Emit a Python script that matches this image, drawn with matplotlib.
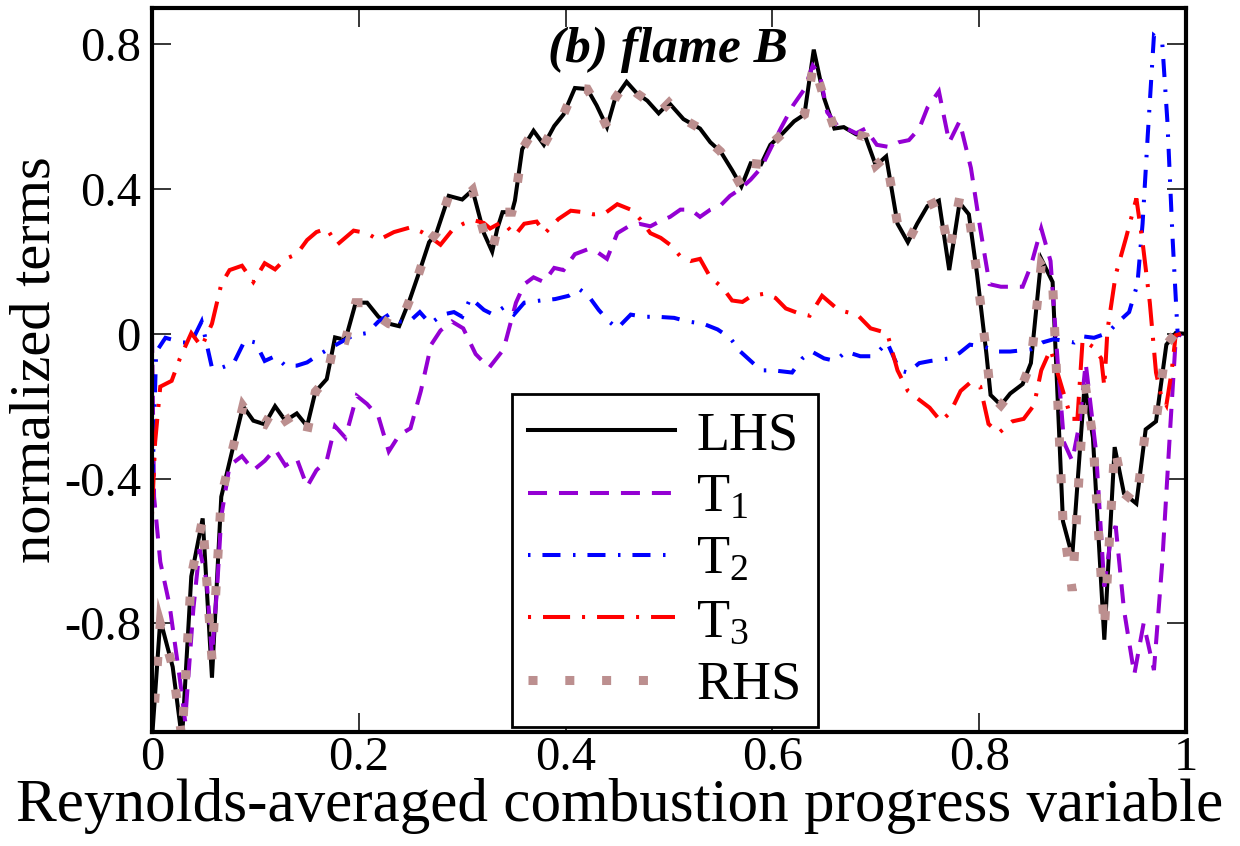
import matplotlib
matplotlib.use("Agg")
from matplotlib import pyplot as plt

lhs_x = [0.000, 0.008, 0.020, 0.029, 0.038, 0.049, 0.058, 0.067, 0.077, 0.088,
         0.098, 0.109, 0.119, 0.129, 0.140, 0.150, 0.158, 0.169, 0.177, 0.187,
         0.197, 0.208, 0.219, 0.229, 0.239, 0.249, 0.259, 0.268, 0.275, 0.287,
         0.300, 0.310, 0.321, 0.329, 0.334, 0.339, 0.348, 0.351, 0.358, 0.369,
         0.379, 0.389, 0.398, 0.409, 0.421, 0.430, 0.440, 0.448, 0.459, 0.469,
         0.479, 0.490, 0.500, 0.514, 0.530, 0.540, 0.550, 0.561, 0.570, 0.579,
         0.589, 0.598, 0.610, 0.621, 0.631, 0.640, 0.650, 0.660, 0.669, 0.681,
         0.690, 0.700, 0.710, 0.721, 0.731, 0.740, 0.750, 0.761, 0.771, 0.781,
         0.790, 0.798, 0.807, 0.811, 0.821, 0.830, 0.842, 0.850, 0.860, 0.871,
         0.881, 0.890, 0.902, 0.910, 0.921, 0.931, 0.940, 0.952, 0.961, 0.971,
         0.981, 0.990, 1.000]
lhs_y = [-1.12, -0.79, -0.92, -1.12, -0.67, -0.51, -0.95, -0.45, -0.33, -0.20,
         -0.24, -0.25, -0.20, -0.24, -0.22, -0.255, -0.16, -0.125, -0.01, -0.017,
         0.086, 0.086, 0.047, 0.028, 0.021, 0.092, 0.175, 0.253, 0.278, 0.381,
         0.371, 0.397, 0.278, 0.227, 0.291, 0.336, 0.336, 0.368, 0.510, 0.561,
         0.522, 0.574, 0.606, 0.679, 0.676, 0.631, 0.571, 0.651, 0.696, 0.664,
         0.644, 0.609, 0.638, 0.593, 0.567, 0.529, 0.503, 0.452, 0.407, 0.471,
         0.468, 0.522, 0.554, 0.587, 0.606, 0.785, 0.651, 0.567, 0.571, 0.551,
         0.544, 0.465, 0.490, 0.304, 0.253, 0.304, 0.353, 0.368, 0.176, 0.362,
         0.330, 0.163, -0.056, -0.169, -0.197, -0.165, -0.139, -0.081, 0.207, 0.143,
         -0.518, -0.614, -0.139, -0.287, -0.845, -0.313, -0.441, -0.469, -0.264, -0.242,
         -0.030, 0.002, 0.000]
rhs_y = [-1.12, -0.80, -0.92, -1.12, -0.67, -0.51, -0.90, -0.45, -0.33, -0.20,
         -0.24, -0.25, -0.20, -0.24, -0.22, -0.27, -0.16, -0.125, -0.01, -0.017,
         0.086, 0.086, 0.047, 0.028, 0.021, 0.092, 0.175, 0.253, 0.278, 0.381,
         0.371, 0.397, 0.278, 0.227, 0.291, 0.336, 0.336, 0.368, 0.510, 0.561,
         0.522, 0.574, 0.606, 0.679, 0.676, 0.631, 0.571, 0.651, 0.696, 0.664,
         0.644, 0.609, 0.638, 0.593, 0.567, 0.529, 0.503, 0.452, 0.407, 0.471,
         0.468, 0.522, 0.554, 0.587, 0.606, 0.745, 0.651, 0.567, 0.571, 0.551,
         0.544, 0.465, 0.490, 0.304, 0.253, 0.304, 0.353, 0.368, 0.225, 0.375,
         0.330, 0.163, -0.056, -0.169, -0.197, -0.165, -0.139, -0.081, 0.190, 0.143,
         -0.518, -0.710, -0.130, -0.287, -0.820, -0.313, -0.441, -0.469, -0.264, -0.242,
         -0.030, 0.002, 0.000]

t1_x = [0.000, 0.002, 0.008, 0.017, 0.027, 0.032, 0.040, 0.046, 0.053, 0.058,
        0.063, 0.067, 0.075, 0.087, 0.098, 0.109, 0.119, 0.129, 0.140, 0.150,
        0.159, 0.169, 0.177, 0.187, 0.198, 0.208, 0.219, 0.229, 0.239, 0.250,
        0.260, 0.270, 0.279, 0.290, 0.301, 0.313, 0.326, 0.340, 0.352, 0.360,
        0.369, 0.379, 0.389, 0.398, 0.409, 0.421, 0.430, 0.440, 0.450, 0.461,
        0.471, 0.482, 0.492, 0.501, 0.511, 0.521, 0.530, 0.540, 0.550, 0.559,
        0.569, 0.579, 0.589, 0.598, 0.608, 0.620, 0.631, 0.639, 0.646, 0.653,
        0.663, 0.669, 0.681, 0.690, 0.701, 0.713, 0.722, 0.732, 0.742, 0.750,
        0.761, 0.771, 0.781, 0.792, 0.801, 0.810, 0.821, 0.830, 0.842, 0.850,
        0.860, 0.869, 0.876, 0.882, 0.890, 0.897, 0.903, 0.913, 0.921, 0.927,
        0.932, 0.940, 0.950, 0.959, 0.969, 0.977, 0.985, 0.990, 0.995]
t1_y = [0.000, -0.450, -0.630, -0.750, -0.955, -1.070, -0.760, -0.595, -0.685, -0.890,
        -0.700, -0.505, -0.364, -0.338, -0.377, -0.351, -0.319, -0.364, -0.345, -0.422,
        -0.377, -0.350, -0.255, -0.287, -0.171, -0.194, -0.229, -0.325, -0.280, -0.261,
        -0.158, -0.030, 0.009, 0.034, 0.015, -0.056, -0.094, -0.043, 0.086, 0.137,
        0.156, 0.143, 0.182, 0.176, 0.220, 0.233, 0.227, 0.207, 0.278, 0.297,
        0.304, 0.297, 0.312, 0.323, 0.343, 0.343, 0.323, 0.343, 0.355, 0.381,
        0.400, 0.426, 0.458, 0.510, 0.567, 0.631, 0.676, 0.741, 0.715, 0.612,
        0.574, 0.571, 0.554, 0.567, 0.522, 0.516, 0.529, 0.535, 0.567, 0.625,
        0.670, 0.529, 0.587, 0.458, 0.291, 0.137, 0.130, 0.130, 0.130, 0.188,
        0.291, 0.201, -0.081, -0.300, -0.351, -0.248, -0.081, -0.325, -0.698, -0.569,
        -0.531, -0.762, -0.941, -0.800, -0.929, -0.633, -0.248, -0.017, 0.000]

t2_x = [0.000, 0.004, 0.013, 0.029, 0.038, 0.048, 0.058, 0.067, 0.079, 0.090,
        0.100, 0.109, 0.119, 0.129, 0.140, 0.150, 0.159, 0.169, 0.182, 0.195,
        0.208, 0.219, 0.229, 0.240, 0.249, 0.259, 0.269, 0.281, 0.292, 0.300,
        0.308, 0.321, 0.330, 0.340, 0.350, 0.360, 0.376, 0.390, 0.403, 0.413,
        0.422, 0.432, 0.442, 0.450, 0.463, 0.476, 0.489, 0.505, 0.518, 0.533,
        0.547, 0.559, 0.569, 0.579, 0.589, 0.601, 0.619, 0.629, 0.638, 0.650,
        0.661, 0.671, 0.685, 0.698, 0.711, 0.723, 0.731, 0.742, 0.753, 0.771,
        0.781, 0.791, 0.805, 0.818, 0.830, 0.850, 0.861, 0.872, 0.884, 0.892,
        0.900, 0.911, 0.924, 0.935, 0.945, 0.953, 0.958, 0.963, 0.969, 0.977,
        0.982, 0.987, 0.992, 0.995]
t2_y = [-0.450, -0.050, -0.011, -0.024, -0.024, 0.034, -0.094, -0.094, -0.081, -0.017,
        -0.024, -0.075, -0.062, -0.088, -0.088, -0.079, -0.062, -0.045, -0.024, -0.004,
        0.002, 0.034, 0.053, 0.034, 0.034, 0.060, 0.028, 0.053, 0.060, 0.047,
        0.099, 0.066, 0.053, 0.073, 0.053, 0.086, 0.092, 0.096, 0.105, 0.124,
        0.105, 0.066, 0.034, 0.015, 0.053, 0.047, 0.047, 0.044, 0.034, 0.028,
        0.012, -0.011, -0.049, -0.075, -0.101, -0.101, -0.107, -0.068, -0.049, -0.068,
        -0.075, -0.049, -0.062, -0.062, -0.024, -0.101, -0.107, -0.081, -0.075, -0.068,
        -0.053, -0.030, -0.036, -0.049, -0.049, -0.043, -0.024, -0.015, -0.020, -0.024,
        -0.007, -0.011, 0.002, 0.034, 0.060, 0.137, 0.304, 0.548, 0.824, 0.805,
        0.587, 0.265, -0.004, 0.000]

t3_x = [0.000, 0.003, 0.008, 0.019, 0.027, 0.038, 0.048, 0.058, 0.067, 0.075,
        0.087, 0.098, 0.109, 0.119, 0.129, 0.140, 0.150, 0.159, 0.169, 0.179,
        0.195, 0.208, 0.219, 0.234, 0.250, 0.261, 0.270, 0.279, 0.290, 0.301,
        0.311, 0.321, 0.327, 0.339, 0.351, 0.360, 0.372, 0.380, 0.393, 0.405,
        0.417, 0.427, 0.438, 0.450, 0.463, 0.472, 0.482, 0.492, 0.501, 0.511,
        0.521, 0.530, 0.540, 0.552, 0.561, 0.571, 0.580, 0.593, 0.603, 0.613,
        0.625, 0.636, 0.648, 0.661, 0.669, 0.682, 0.695, 0.711, 0.721, 0.731,
        0.740, 0.752, 0.763, 0.772, 0.782, 0.792, 0.801, 0.809, 0.819, 0.832,
        0.843, 0.853, 0.860, 0.869, 0.881, 0.889, 0.895, 0.900, 0.910, 0.918,
        0.921, 0.924, 0.932, 0.942, 0.952, 0.958, 0.965, 0.971, 0.976, 0.981,
        0.986, 0.990, 0.995]
t3_y = [-0.500, -0.300, -0.146, -0.130, -0.068, 0.002, -0.036, 0.028, 0.137, 0.176,
        0.188, 0.143, 0.195, 0.178, 0.207, 0.220, 0.259, 0.281, 0.291, 0.246,
        0.285, 0.278, 0.259, 0.281, 0.294, 0.281, 0.265, 0.246, 0.285, 0.304,
        0.314, 0.306, 0.291, 0.310, 0.272, 0.304, 0.310, 0.278, 0.317, 0.340,
        0.336, 0.330, 0.333, 0.358, 0.343, 0.317, 0.278, 0.265, 0.246, 0.214,
        0.201, 0.207, 0.156, 0.127, 0.092, 0.088, 0.105, 0.111, 0.099, 0.070,
        0.057, 0.050, 0.105, 0.073, 0.062, 0.053, 0.015, 0.002, -0.101, -0.158,
        -0.178, -0.204, -0.242, -0.217, -0.158, -0.133, -0.146, -0.249, -0.274, -0.242,
        -0.235, -0.197, -0.101, -0.043, -0.158, -0.235, -0.235, -0.017, -0.036, -0.068,
        -0.146, 0.009, 0.163, 0.265, 0.374, 0.253, 0.086, -0.107, -0.171, -0.197,
        -0.107, -0.004, 0.000]

xticks = [0, 0.2, 0.4, 0.6, 0.8, 1.0]
xtick_labels = ['0', '0.2', '0.4', '0.6', '0.8', '1']
yticks = [-0.8, -0.4, 0, 0.4, 0.8]
ytick_labels = ['-0.8', '-0.4', '0', '0.4', '0.8']

plt.rcParams['font.family'] = ['Liberation Serif', 'DejaVu Serif']
plt.rcParams['mathtext.fontset'] = 'custom'
plt.rcParams['mathtext.rm'] = 'Liberation Serif'
plt.rcParams['mathtext.it'] = 'Liberation Serif:italic'
plt.rcParams['lines.scale_dashes'] = False

fig = plt.figure(figsize=(12.4, 8.46), dpi=100)
ax = fig.add_axes([152 / 1240, 1 - 732 / 846, 1034 / 1240, 724 / 846])

ax.plot(lhs_x, lhs_y, c='black', lw=2.9, solid_joinstyle='miter', label='LHS')
ax.plot(t1_x, t1_y, c='#9400d3', lw=2.9, dashes=(13.7, 8.6),
        dash_joinstyle='miter', label='T$_1$')
ax.plot(t2_x, t2_y, c='#0000ff', lw=2.9, dashes=(1.8, 8.6, 13, 9),
        dash_joinstyle='miter', label='T$_2$')
ax.plot(t3_x, t3_y, c='#ff0000', lw=2.9, dashes=(2.2, 8.6, 19.5, 8.6),
        dash_joinstyle='miter', label='T$_3$')
ax.plot(lhs_x, rhs_y, c='#bc8f8f', lw=6.5, dashes=(6.5, 20),
        dash_joinstyle='miter', label='RHS')

ax.set_xlim(0, 1)
ax.set_ylim(-1.1, 0.9)
ax.set_xticks(xticks, xtick_labels)
ax.set_yticks(yticks, ytick_labels)
ax.tick_params(axis='both', which='major', direction='in', length=13.5, width=1.1,
               top=True, right=True, labelsize=35)
ax.tick_params(axis='x', pad=3)
ax.tick_params(axis='y', pad=8)
for sp in ax.spines.values():
    sp.set_linewidth(3)

ax.set_xlabel('Reynolds-averaged combustion progress variable', fontsize=44)
ax.xaxis.set_label_coords(0.4526, -0.063)
ax.set_ylabel('normalized terms', fontsize=42)
ax.yaxis.set_label_coords(-0.088, 0.514)

ax.text(0.499, 0.925, '(b) flame B', transform=ax.transAxes, ha='center',
        va='baseline', fontsize=37, fontweight='bold', fontstyle='italic')

leg = ax.legend(loc='lower left', bbox_to_anchor=(512 / 1240, 1 - 727 / 846),
                bbox_transform=fig.transFigure, borderaxespad=0, fontsize=39,
                handlelength=2.7, handletextpad=0.4, borderpad=0.3,
                labelspacing=0.22, fancybox=False, framealpha=1, edgecolor='black')
leg.get_frame().set_linewidth(2)

fig.savefig('out.png', dpi=100)
